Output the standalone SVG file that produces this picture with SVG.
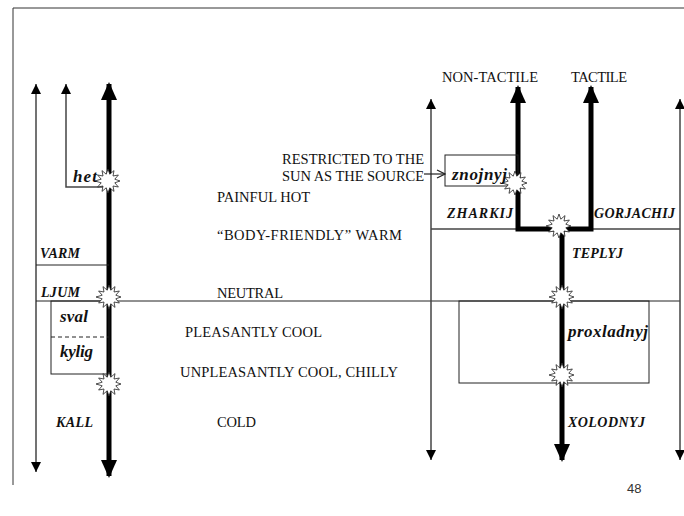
<svg xmlns="http://www.w3.org/2000/svg" width="684" height="516" viewBox="0 0 684 516">
<style>
.t{font-family:"Liberation Serif",serif;font-size:14.5px;fill:#111}
.l{font-family:"Liberation Serif",serif;font-weight:bold;font-style:italic;font-size:14px;fill:#111}
.lc{font-size:17px}
.s{font-family:"Liberation Sans",sans-serif;font-size:13px;fill:#333}
.thin{stroke:#444;stroke-width:1.5;fill:none}
.thick{stroke:#000;stroke-width:5;fill:none}
.box{stroke:#222;stroke-width:1;fill:none}
.star{fill:#fff;stroke:#222;stroke-width:0.8}
</style>
<defs>
<marker id="ah" markerUnits="userSpaceOnUse" markerWidth="10" markerHeight="12" viewBox="0 0 10 12" refX="10" refY="5" orient="auto-start-reverse">
<path d="M0,0 L10,5 L0,10 z" fill="#000"/>
</marker>
<marker id="ahT" markerUnits="userSpaceOnUse" markerWidth="18" markerHeight="16" viewBox="0 0 18 16" refX="16" refY="8" orient="auto-start-reverse">
<path d="M0,0 L18,8 L0,16 z" fill="#000"/>
</marker>
<marker id="ahO" markerUnits="userSpaceOnUse" markerWidth="10" markerHeight="10" viewBox="0 0 10 10" refX="9" refY="5" orient="auto">
<path d="M1,1 L9,5 L1,9" fill="none" stroke="#222" stroke-width="1.2"/>
</marker>
<polygon id="burst" points="12,0 6.8,1.8 10.4,6 5,5 6,10.4 1.8,6.8 0,12 -1.8,6.8 -6,10.4 -5,5 -10.4,6 -6.8,1.8 -13,0 -6.8,-1.8 -10.4,-6 -5,-5 -6,-10.4 -1.8,-6.8 0,-12 1.8,-6.8 6,-10.4 5,-5 10.4,-6 6.8,-1.8"/>
</defs>

<path d="M13,485 V8 H684" fill="none" stroke="#333" stroke-width="1"/>

<g id="connectors">
<line class="thin" x1="36" y1="472" x2="36" y2="84" marker-start="url(#ah)" marker-end="url(#ah)"/>
<polyline class="thin" points="109,187 66,187 66,84" marker-end="url(#ah)"/>
<line class="thick" x1="109" y1="476" x2="109" y2="84" marker-start="url(#ahT)" marker-end="url(#ahT)"/>
<line class="box" x1="36" y1="265" x2="109" y2="265"/>
<line class="box" x1="36" y1="301" x2="680" y2="301"/>
<line class="thin" x1="431" y1="460" x2="431" y2="99" marker-start="url(#ah)" marker-end="url(#ah)"/>
<line class="thin" x1="680" y1="460" x2="680" y2="99" marker-start="url(#ah)" marker-end="url(#ah)"/>
<line class="thin" x1="431" y1="229" x2="518" y2="229"/>
<line class="thin" x1="591" y1="229" x2="680" y2="229"/>
<polyline class="thick" points="518,87 518,229 591,229 591,87" marker-start="url(#ahT)" marker-end="url(#ahT)"/>
<line class="thick" x1="562" y1="229" x2="562" y2="460" marker-end="url(#ahT)"/>
<line x1="424" y1="174" x2="445" y2="174" stroke="#222" stroke-width="1.2" marker-end="url(#ahO)"/>
</g>

<g id="box-sval-kylig">
<rect class="box" x="51" y="301" width="58" height="73"/>
<line x1="51" y1="337" x2="109" y2="337" stroke="#222" stroke-width="1" stroke-dasharray="4,3"/>
</g>
<g id="box-znojnyj"><rect class="box" x="445" y="155" width="73" height="31"/></g>
<g id="box-proxladnyj"><rect class="box" x="459" y="301" width="190" height="82"/></g>

<g id="stars">
<use href="#burst" class="star" x="108" y="181"/>
<use href="#burst" class="star" x="109" y="297"/>
<use href="#burst" class="star" x="109" y="384"/>
<use href="#burst" class="star" x="515" y="183"/>
<use href="#burst" class="star" x="559" y="226"/>
<use href="#burst" class="star" x="562" y="297"/>
<use href="#burst" class="star" x="562" y="375"/>
</g>

<g id="labels-left">
<text class="l lc" x="73" y="182" textLength="24">het</text>
<text class="l" x="40" y="258" textLength="40">VARM</text>
<text class="l" x="41" y="297" textLength="39">LJUM</text>
<text class="l lc" x="60" y="322" textLength="28">sval</text>
<text class="l lc" x="60" y="357" textLength="33">kylig</text>
<text class="l" x="56" y="427" textLength="37">KALL</text>
</g>

<g id="labels-middle">
<text class="t" x="217" y="202" textLength="93">PAINFUL HOT</text>
<text class="t" x="217" y="240" textLength="185">“BODY-FRIENDLY” WARM</text>
<text class="t" x="217" y="298" textLength="66">NEUTRAL</text>
<text class="t" x="185" y="337" textLength="137">PLEASANTLY COOL</text>
<text class="t" x="180" y="377" textLength="218">UNPLEASANTLY COOL, CHILLY</text>
<text class="t" x="217" y="427" textLength="39">COLD</text>
<text class="t" x="282" y="164" textLength="142">RESTRICTED TO THE</text>
<text class="t" x="282" y="181" textLength="142">SUN AS THE SOURCE</text>
</g>

<g id="labels-right">
<text class="t" x="442" y="82" textLength="96">NON-TACTILE</text>
<text class="t" x="571" y="82" textLength="56">TACTILE</text>
<text class="l lc" x="452" y="180" textLength="55">znojnyj</text>
<text class="l" x="447" y="218" textLength="66">ZHARKIJ</text>
<text class="l" x="594" y="218" textLength="81">GORJACHIJ</text>
<text class="l" x="572" y="258" textLength="51">TEPLYJ</text>
<text class="l lc" x="568" y="337" textLength="80">proxladnyj</text>
<text class="l" x="568" y="427" textLength="77">XOLODNYJ</text>
</g>

<text class="s" x="627" y="493">48</text>
</svg>
